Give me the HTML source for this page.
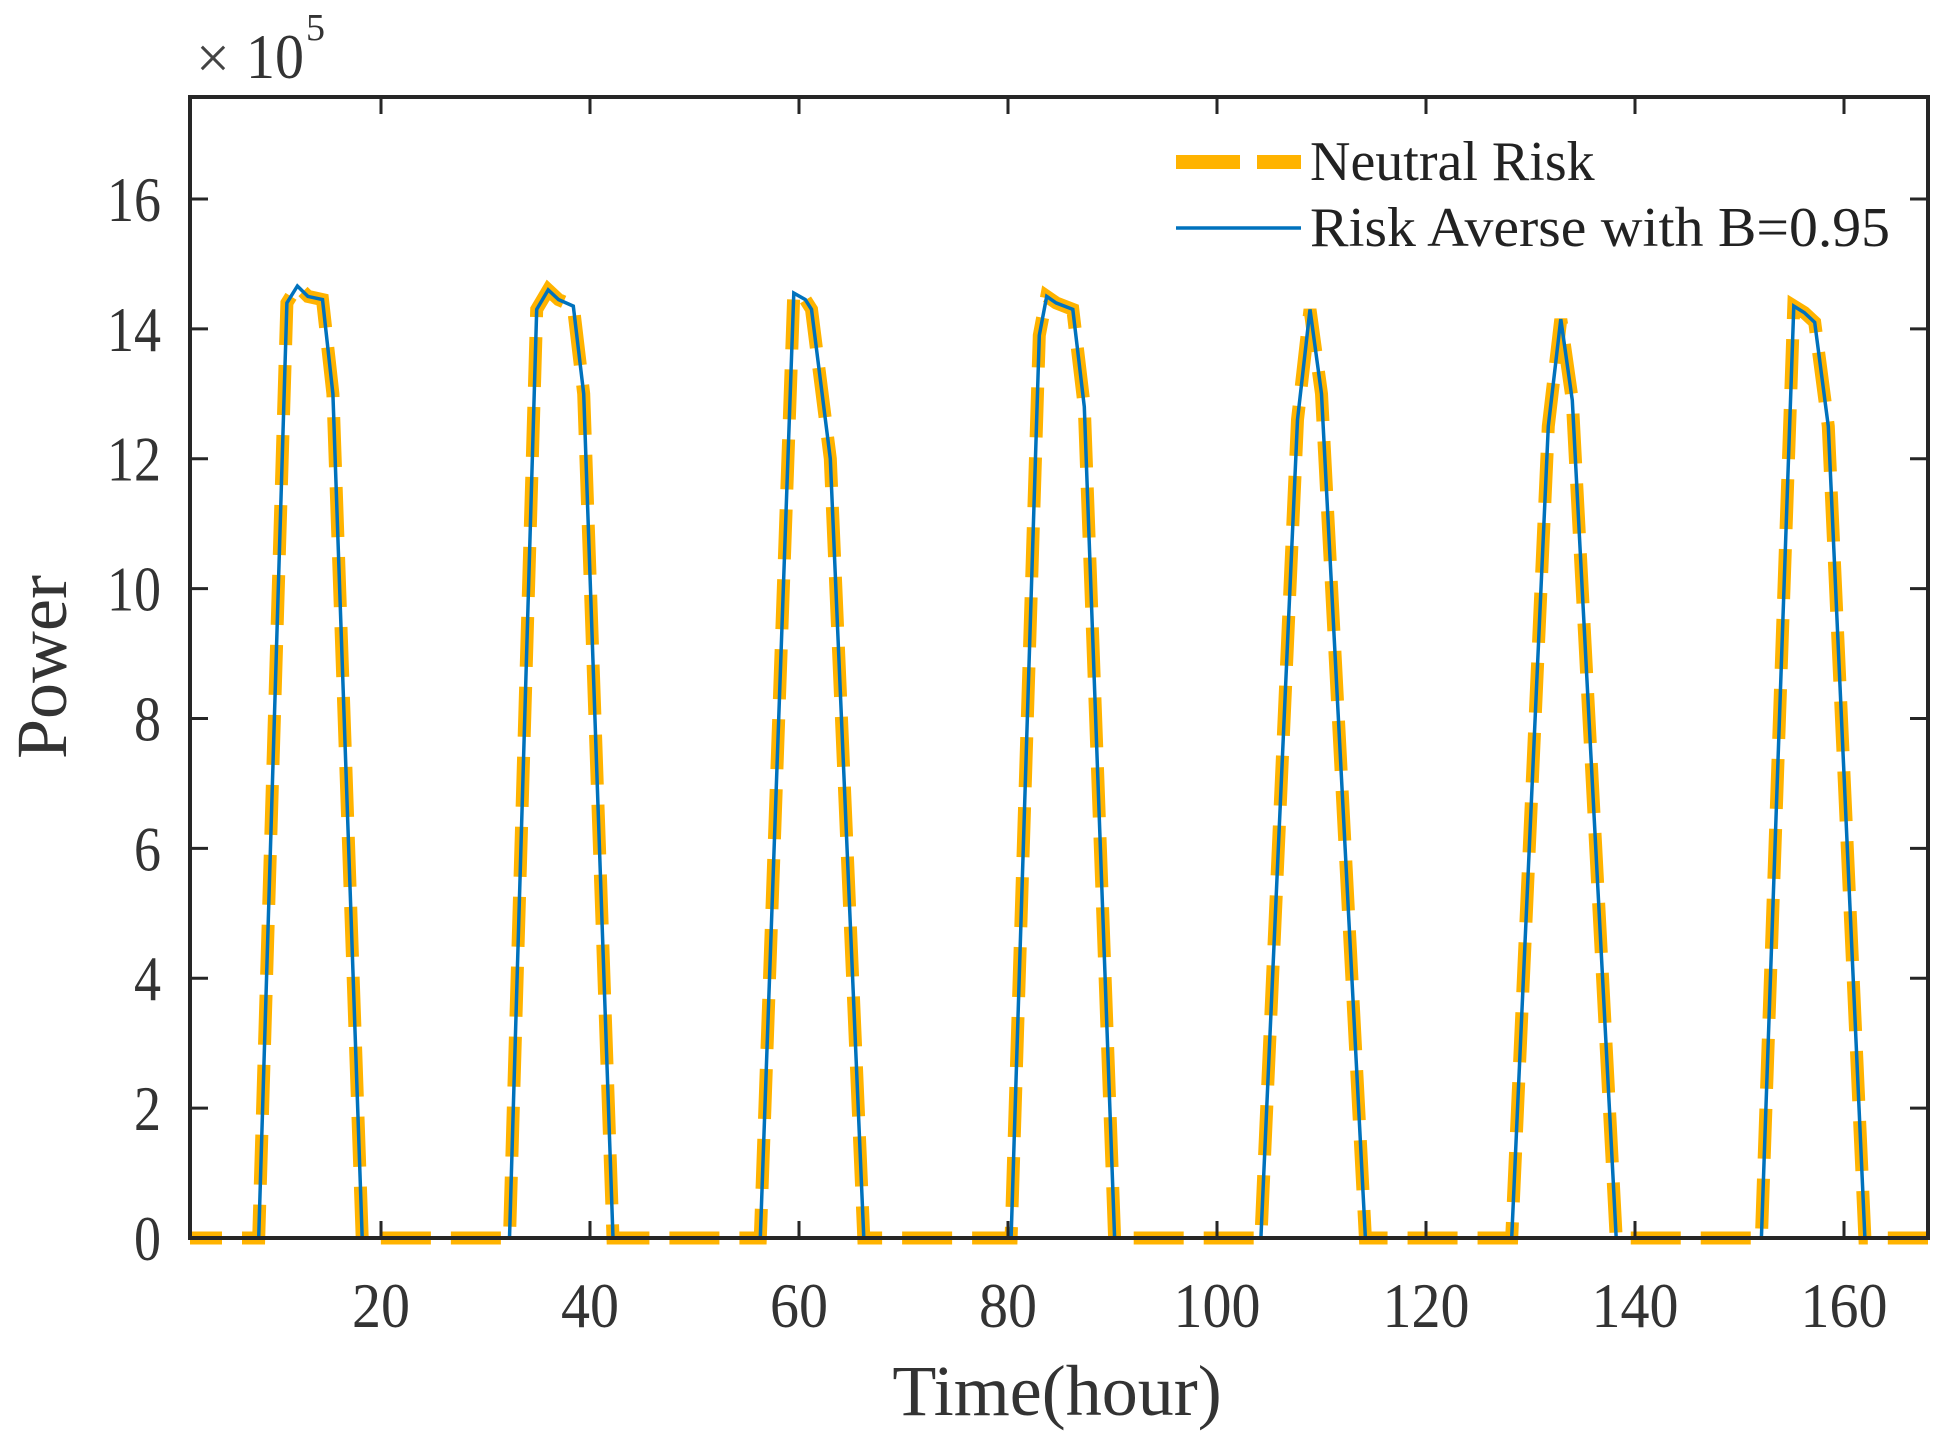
<!DOCTYPE html>
<html><head><meta charset="utf-8"><style>
html,body{margin:0;padding:0;background:#fff;}
svg{display:block;font-family:"Liberation Serif",serif;}
</style></head><body>
<svg id="s" width="1938" height="1447" viewBox="0 0 1938 1447" xmlns="http://www.w3.org/2000/svg">
<defs><clipPath id="c"><rect x="190" y="97" width="1738" height="1150"/></clipPath></defs>
<g id="plot" clip-path="url(#c)">
<path id="orange" fill="none" stroke="#FFB300" stroke-width="13" stroke-dasharray="50 20" stroke-linejoin="miter"/>
<path id="blue" fill="none" stroke="#0072BD" stroke-width="3.5"/>
</g>
<g id="axes" stroke="#262626" stroke-width="4" fill="none">
<rect x="190" y="97" width="1738" height="1141"/>
</g>
<g id="ticks" stroke="#262626" stroke-width="3"></g>
<g id="labels" fill="#333" font-size="64"></g>
<text x="196" y="78" font-size="60" fill="#444">×</text>
<text x="246" y="78" font-size="64" fill="#333" textLength="58" lengthAdjust="spacingAndGlyphs">10</text>
<text x="306" y="40" font-size="38" fill="#333">5</text>
<text x="1057" y="1415" font-size="72" fill="#333" text-anchor="middle">Time(hour)</text>
<text transform="translate(66,667) rotate(-90)" font-size="72" fill="#333" text-anchor="middle">Power</text>
<line x1="1176" y1="162" x2="1301" y2="162" stroke="#FFB300" stroke-width="14" stroke-dasharray="64 17"/>
<line x1="1176" y1="228" x2="1301" y2="228" stroke="#0072BD" stroke-width="3.5"/>
<text x="1310" y="180" font-size="56" fill="#222">Neutral Risk</text>
<text x="1310" y="246" font-size="56" fill="#222" textLength="580" lengthAdjust="spacingAndGlyphs">Risk Averse with B=0.95</text>
</svg>
<script>
var X=function(t){return 172+10.45*t;},Y=function(v){return 1238-64.94*v;};
var days=[
 [[8.3,0],[11,14.4],[12,14.66],[13,14.5],[14.4,14.45],[15.4,13],[18.2,0]],
 [[8.3,0],[10.9,14.3],[12,14.6],[13,14.45],[14.4,14.35],[15.4,13],[18.2,0]],
 [[8.3,0],[11.5,14.55],[12.6,14.45],[13.2,14.3],[15,12],[18.2,0]],
 [[8.3,0],[11,13.9],[11.7,14.5],[12.6,14.4],[14.2,14.3],[15.3,12.8],[18.2,0]],
 [[8.2,0],[11.7,12.6],[12.9,14.3],[14,13],[18.2,0]],
 [[8.2,0],[11.7,12.5],[12.9,14.15],[14,12.9],[18.2,0]],
 [[8.1,0],[11.2,14.35],[12.2,14.25],[13.2,14.1],[14.5,12.5],[18,0]]];
var d="M"+X(0)+","+Y(0);
for(var i=0;i<7;i++){days[i].forEach(function(p){d+=" L"+X(24*i+p[0]).toFixed(1)+","+Y(p[1]).toFixed(1);});}
d+=" L"+X(170)+","+Y(0);
document.getElementById("orange").setAttribute("d",d);
document.getElementById("blue").setAttribute("d",d);
var tk=document.getElementById("ticks"),lb=document.getElementById("labels"),ns="http://www.w3.org/2000/svg";
function ln(a,b,c,e){var l=document.createElementNS(ns,"line");l.setAttribute("x1",a);l.setAttribute("y1",b);l.setAttribute("x2",c);l.setAttribute("y2",e);tk.appendChild(l);}
function tx(x,y,s,anc,len){var t=document.createElementNS(ns,"text");t.setAttribute("x",x);t.setAttribute("y",y);t.setAttribute("text-anchor",anc);t.textContent=s;if(len){t.setAttribute("textLength",len);t.setAttribute("lengthAdjust","spacingAndGlyphs");}lb.appendChild(t);}
for(var v=0;v<=16;v+=2){var y=Y(v);ln(190,y,208,y);ln(1928,y,1910,y);var s=""+v;tx(161,y+22,s,"end",s.length*27);}
for(var t=20;t<=160;t+=20){var x=X(t);ln(x,1238,x,1221);ln(x,97,x,114);var s=""+t;tx(x,1327,s,"middle",s.length*29);}
</script>
</body></html>
